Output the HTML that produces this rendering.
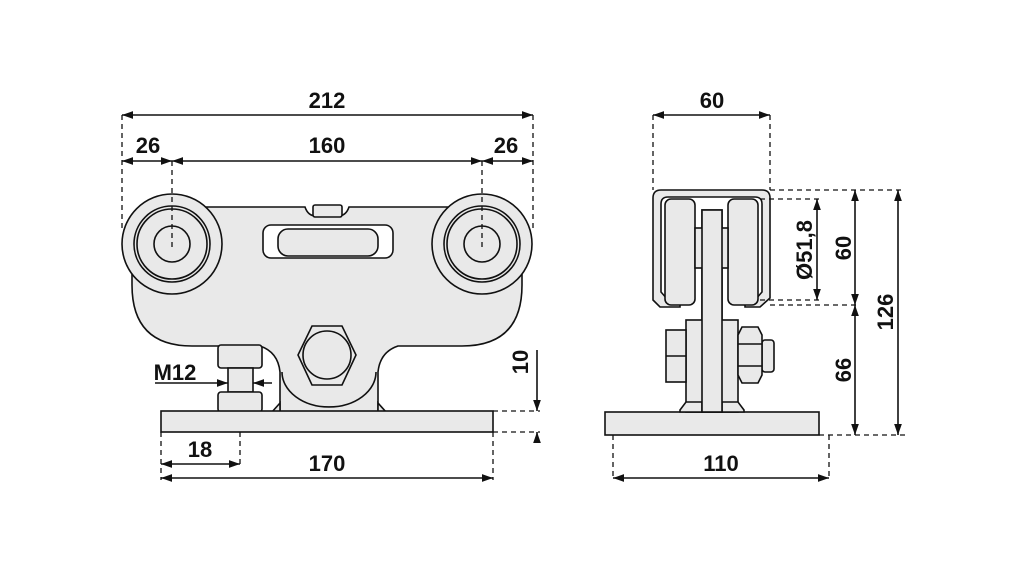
<!DOCTYPE html>
<html><head><meta charset="utf-8"><style>
html,body{margin:0;padding:0;background:#fff}
svg{display:block}
text{font-family:"Liberation Sans Narrow","Liberation Sans",sans-serif;font-weight:bold;font-size:22px;fill:#111;text-anchor:middle}
</style></head><body>
<svg width="1021" height="567" viewBox="0 0 1021 567" xmlns="http://www.w3.org/2000/svg">
<defs>
<marker id="a" viewBox="0 0 10 10" refX="10" refY="5" markerWidth="7" markerHeight="7" orient="auto-start-reverse"><path d="M0,1.5 L10,5 L0,8.5 z" fill="#111"/></marker>
</defs>
<g fill="#e9e9e9" stroke="#111" stroke-width="1.6">
<!-- LEFT VIEW -->
<!-- body -->
<path d="M200,207 H305 Q308,216 316,216 H338 Q346,216 349,207 H455 L522,250 V285 Q522,346 462,346 H398 Q380,352 378,372 V412 H280 V372 Q278,352 260,346 H192 Q132,346 132,285 V250 Z"/>
<path d="M282,372 A47,35 0 0 0 376,372" fill="none"/>
<path d="M280,403 L272,412 H280 Z M378,403 L386,412 H378 Z"/>
<!-- wheels -->
<circle cx="172" cy="244" r="50"/><circle cx="172" cy="244" r="38"/><circle cx="172" cy="244" r="35"/><circle cx="172" cy="244" r="18"/>
<circle cx="482" cy="244" r="50"/><circle cx="482" cy="244" r="38"/><circle cx="482" cy="244" r="35"/><circle cx="482" cy="244" r="18"/>
<!-- top nut -->
<rect x="313" y="205" width="29" height="12" rx="2"/>
<!-- slot -->
<rect x="263" y="225" width="130" height="33" rx="8" fill="#fff"/>
<rect x="278" y="229" width="100" height="27" rx="10"/>
<!-- big nut -->
<path d="M312,326 H342 L356,355 L342,385 H312 L298,355 Z"/>
<circle cx="327" cy="355" r="24"/>
<!-- bolt -->
<rect x="218" y="345" width="44" height="23" rx="3"/>
<rect x="228" y="368" width="25" height="24"/>
<rect x="218" y="392" width="44" height="20" rx="3"/>
<!-- plate -->
<rect x="161" y="411" width="332" height="21"/>

<!-- RIGHT VIEW -->
<rect x="605" y="412" width="214" height="23"/>
<rect x="702" y="210" width="20" height="202"/>
<rect x="686" y="320" width="52" height="92"/>
<rect x="666" y="330" width="20" height="52"/>
<line x1="666" y1="356" x2="686" y2="356"/>
<rect x="762" y="340" width="12" height="32" rx="3"/>
<path d="M742,327 H758 L762,335 V375 L758,383 H742 L738,375 V335 Z"/>
<line x1="738" y1="344" x2="762" y2="344"/><line x1="738" y1="366" x2="762" y2="366"/>
<path d="M680,410 L686,402 H702 V412 H680 Z M744,410 L738,402 H722 V412 H744 Z"/>
<!-- channel -->
<path d="M653,300 V198 Q653,190 661,190 H762 Q770,190 770,198 V298 L760,307 H745 V300 H755 L762,292 V204 Q762,197 755,197 H668 Q661,197 661,204 V292 L668,300 H680 V307 H660 Z"/>
<rect x="665" y="199" width="30" height="106" rx="6"/>
<rect x="728" y="199" width="30" height="106" rx="6"/>
<rect x="695" y="228" width="33" height="40"/>
<rect x="702" y="210" width="20" height="202"/>
</g>

<!-- centre lines -->
<g stroke="#111" stroke-width="1.3" stroke-dasharray="5,4" fill="none">
<line x1="122" y1="115" x2="122" y2="228"/>
<line x1="533" y1="115" x2="533" y2="228"/>
<line x1="172" y1="161" x2="172" y2="250"/>
<line x1="482" y1="161" x2="482" y2="250"/>
<line x1="493" y1="411" x2="540" y2="411"/>
<line x1="493" y1="432" x2="540" y2="432"/>
<line x1="161" y1="432" x2="161" y2="480"/>
<line x1="240" y1="432" x2="240" y2="466"/>
<line x1="493" y1="432" x2="493" y2="480"/>
<line x1="653" y1="115" x2="653" y2="190"/>
<line x1="770" y1="115" x2="770" y2="190"/>
<line x1="613" y1="435" x2="613" y2="480"/>
<line x1="829" y1="435" x2="829" y2="480"/>
<line x1="760" y1="199" x2="820" y2="199"/>
<line x1="760" y1="300" x2="820" y2="300"/>
<line x1="770" y1="190" x2="905" y2="190"/>
<line x1="770" y1="305" x2="860" y2="305"/>
<line x1="819" y1="435" x2="905" y2="435"/>
</g>

<!-- dimension lines -->
<g stroke="#111" stroke-width="1.6" fill="none">
<line x1="122" y1="115" x2="533" y2="115" marker-start="url(#a)" marker-end="url(#a)"/>
<line x1="122" y1="161" x2="172" y2="161" marker-start="url(#a)" marker-end="url(#a)"/>
<line x1="172" y1="161" x2="482" y2="161" marker-start="url(#a)" marker-end="url(#a)"/>
<line x1="482" y1="161" x2="533" y2="161" marker-start="url(#a)" marker-end="url(#a)"/>
<line x1="155" y1="383" x2="228" y2="383" marker-end="url(#a)"/>
<line x1="272" y1="383" x2="253" y2="383" marker-end="url(#a)"/>
<line x1="537" y1="350" x2="537" y2="411" marker-end="url(#a)"/>
<line x1="537" y1="440" x2="537" y2="432" marker-end="url(#a)"/>
<line x1="161" y1="464" x2="240" y2="464" marker-start="url(#a)" marker-end="url(#a)"/>
<line x1="161" y1="478" x2="493" y2="478" marker-start="url(#a)" marker-end="url(#a)"/>
<line x1="653" y1="115" x2="770" y2="115" marker-start="url(#a)" marker-end="url(#a)"/>
<line x1="613" y1="478" x2="829" y2="478" marker-start="url(#a)" marker-end="url(#a)"/>
<line x1="817" y1="199" x2="817" y2="300" marker-start="url(#a)" marker-end="url(#a)"/>
<line x1="855" y1="190" x2="855" y2="305" marker-start="url(#a)" marker-end="url(#a)"/>
<line x1="855" y1="305" x2="855" y2="435" marker-start="url(#a)" marker-end="url(#a)"/>
<line x1="898" y1="190" x2="898" y2="435" marker-start="url(#a)" marker-end="url(#a)"/>
</g>

<text x="327" y="108">212</text>
<text x="148" y="153">26</text>
<text x="327" y="153">160</text>
<text x="506" y="153">26</text>
<text x="175" y="380">M12</text>
<text x="200" y="457">18</text>
<text x="327" y="471">170</text>
<text x="712" y="108">60</text>
<text x="721" y="471">110</text>
<text transform="translate(528,362) rotate(-90)">10</text>
<text transform="translate(812,250) rotate(-90)">Ø51,8</text>
<text transform="translate(851,248) rotate(-90)">60</text>
<text transform="translate(851,370) rotate(-90)">66</text>
<text transform="translate(893,312) rotate(-90)">126</text>
</svg>
</body></html>
